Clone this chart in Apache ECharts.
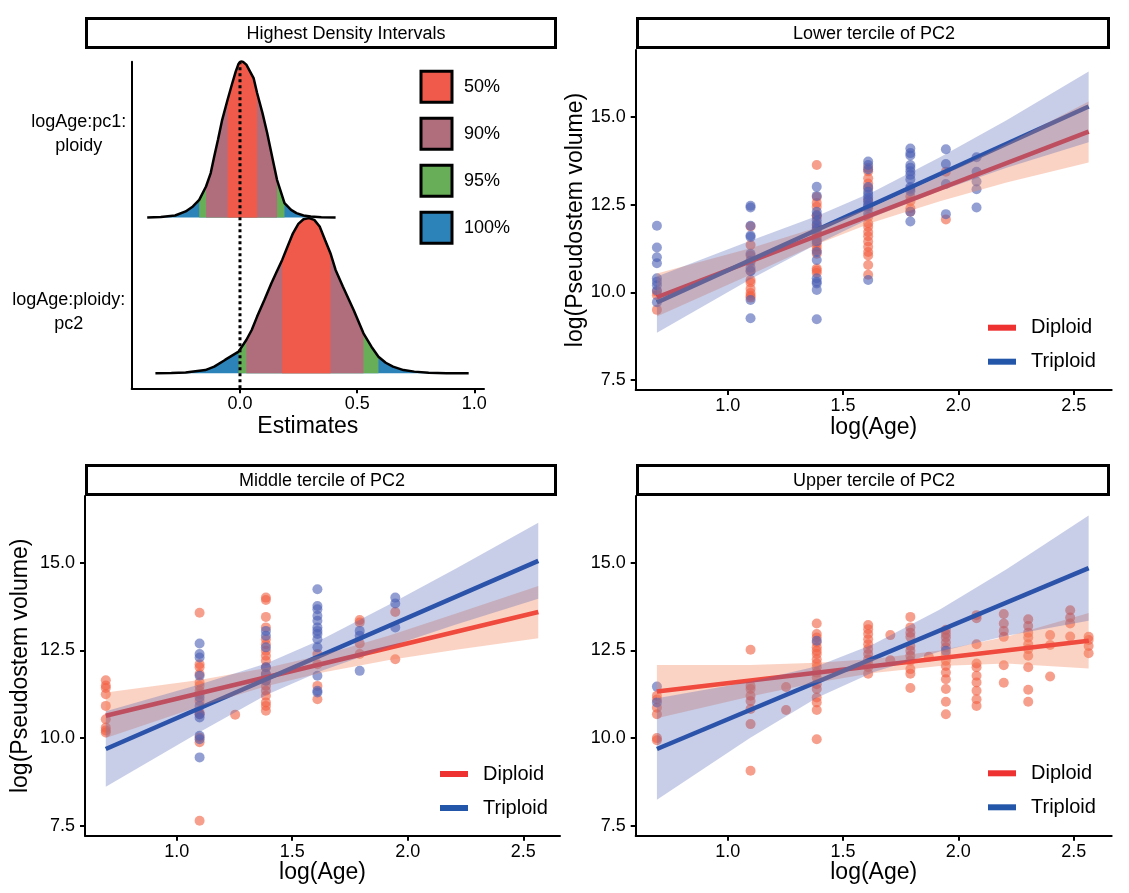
<!DOCTYPE html>
<html><head><meta charset="utf-8">
<script src="https://cdn.jsdelivr.net/npm/echarts@6/dist/echarts.min.js"></script>
<style>html,body{margin:0;padding:0;background:#fff}#c{width:1129px;height:893px}</style>
</head><body><div id="c"></div>
<script>
// ================= DATA =================
const stripTitles = ['Highest Density Intervals', 'Lower tercile of PC2', 'Middle tercile of PC2', 'Upper tercile of PC2'];
const hdiLevels = ['50%', '90%', '95%', '100%'];
const ridgeLabels = ['logAge:ploidy:\npc2', 'logAge:pc1:\nploidy'];
const estimateTicks = [0, 0.5, 1.0];
const ageTicks = [1.0, 1.5, 2.0, 2.5];
const volumeTicks = [7.5, 10.0, 12.5, 15.0];

// Posterior density of logAge:pc1:ploidy (baseline 2)
const pc1X = [-0.396, -0.338, -0.277, -0.232, -0.201, -0.174, -0.145, -0.125, -0.110, -0.094, -0.076, -0.053, -0.034, -0.018, -0.006, 0.006, 0.027, 0.058, 0.073, 0.096, 0.116, 0.137, 0.158, 0.190, 0.218, 0.241, 0.271, 0.302, 0.347, 0.408];
const pc1H = [0, 0.004, 0.013, 0.039, 0.071, 0.113, 0.199, 0.285, 0.392, 0.499, 0.627, 0.756, 0.857, 0.938, 0.987, 1.008, 0.981, 0.895, 0.799, 0.670, 0.542, 0.392, 0.242, 0.092, 0.049, 0.028, 0.013, 0.006, 0.002, 0];
// HDI bounds in order of hdiLevels
const pc1Hdi = [[-0.053, 0.073], [-0.145, 0.158], [-0.174, 0.190], [-0.396, 0.408]];

// Posterior density of logAge:ploidy:pc2 (baseline 1)
const pc2X = [-0.361, -0.293, -0.232, -0.148, -0.110, -0.064, -0.006, 0.027, 0.050, 0.073, 0.104, 0.134, 0.157, 0.180, 0.203, 0.226, 0.249, 0.271, 0.294, 0.317, 0.340, 0.363, 0.386, 0.408, 0.439, 0.485, 0.527, 0.561, 0.591, 0.622, 0.653, 0.698, 0.744, 0.805, 0.881, 0.976];
const pc2H = [0, 0.002, 0.006, 0.021, 0.043, 0.086, 0.139, 0.214, 0.278, 0.364, 0.471, 0.578, 0.653, 0.728, 0.814, 0.899, 0.959, 0.989, 0.996, 0.985, 0.942, 0.856, 0.771, 0.664, 0.557, 0.407, 0.257, 0.171, 0.107, 0.068, 0.043, 0.021, 0.011, 0.004, 0, 0];
const pc2Hdi = [[0.180, 0.386], [0.027, 0.527], [-0.006, 0.591], [-0.361, 0.976]];

const zeroLine = [[0, 0.904], [0, 3.0]];

// Scatter points: [log(Age), [log(Pseudostem volume) ...]]
const lowerDiploid = [
  [0.693, [10.02, 9.92, 9.50]],
  [1.099, [11.88, 11.35, 11.05, 10.85, 10.62, 10.35, 10.28, 10.10, 9.98, 9.90, 9.85]],
  [1.386, [13.63, 12.72, 12.55, 12.44, 12.20, 12.15, 11.95, 11.85, 11.75, 11.68, 11.62, 11.55, 11.48, 11.40, 11.30, 11.20, 11.10, 10.68, 10.62, 10.55]],
  [1.609, [13.55, 13.45, 13.25, 13.10, 12.97, 12.63, 12.40, 12.15, 11.97, 11.87, 11.72, 11.60, 11.45, 11.30, 11.15, 11.05, 10.78, 10.50]],
  [1.792, [12.73, 12.60, 12.40, 12.30]],
  [1.946, [13.44, 12.08]]
];
const lowerTriploid = [
  [0.693, [11.90, 11.28, 11.00, 10.83, 10.40, 10.30, 10.20, 10.05, 9.72]],
  [1.099, [12.47, 12.42, 11.90, 11.62, 11.58, 11.10, 10.90, 10.70, 10.60, 9.78, 9.26]],
  [1.386, [13.01, 12.75, 12.30, 12.20, 12.05, 11.92, 11.80, 11.45, 11.15, 10.92, 10.40, 10.30, 10.25, 10.07, 9.23]],
  [1.609, [13.73, 13.63, 13.50, 13.00, 12.87, 12.78, 12.70, 12.60, 12.50, 12.45, 12.25, 10.35]],
  [1.792, [14.10, 13.97, 13.90, 13.63, 13.55, 13.45, 13.35, 13.22, 13.00, 12.95, 12.88, 12.30, 12.02]],
  [1.946, [14.08, 13.66, 13.09, 12.23]],
  [2.079, [13.85, 13.44, 13.16, 12.94, 12.42]]
];
const middleDiploid = [
  [0.693, [11.65, 11.50, 11.43, 11.25, 10.92, 10.54, 10.30, 10.22, 10.16]],
  [1.099, [13.58, 12.11, 12.02, 11.83, 11.59, 11.49, 11.35, 11.25, 11.06, 10.73, 10.68, 10.02, 9.88, 7.64]],
  [1.253, [10.67]],
  [1.386, [14.01, 13.94, 13.46, 13.16, 12.82, 12.68, 12.49, 12.35, 12.21, 12.02, 11.83, 11.64, 11.49, 11.35, 11.21, 11.02, 10.92, 10.78]],
  [1.609, [12.40, 12.11, 11.49, 11.11]],
  [1.792, [13.37, 13.30, 12.70, 12.40]],
  [1.946, [13.60, 12.25]]
];
const middleTriploid = [
  [1.099, [12.70, 12.40, 12.30, 11.78, 11.16, 10.92, 10.68, 10.59, 10.07, 9.97, 9.45]],
  [1.386, [13.06, 12.92, 12.59, 12.02, 11.83, 11.64]],
  [1.609, [14.25, 13.77, 13.68, 13.49, 13.35, 13.16, 13.06, 12.97, 12.82, 12.59, 11.78, 11.35, 11.30]],
  [1.792, [13.06, 12.92, 11.92]],
  [1.946, [14.01, 13.84, 13.16]]
];
const upperDiploid = [
  [0.693, [11.21, 11.10, 10.87, 10.68, 10.00, 9.94]],
  [1.099, [12.52, 11.49, 11.40, 11.21, 11.06, 10.83, 10.40, 9.07]],
  [1.253, [11.46, 10.80]],
  [1.386, [13.27, 12.97, 12.87, 12.73, 12.59, 12.49, 12.40, 12.25, 12.13, 12.02, 11.87, 11.73, 11.54, 11.40, 11.16, 11.02, 10.80, 9.97]],
  [1.609, [13.23, 13.11, 12.97, 12.82, 12.68, 12.54, 12.40, 12.25, 12.13, 12.02, 11.84]],
  [1.705, [12.94, 12.22]],
  [1.792, [13.46, 13.16, 13.01, 12.89, 12.63, 12.49, 12.35, 12.21, 11.97, 11.84, 11.43]],
  [1.872, [12.32]],
  [1.946, [13.09, 12.98, 12.87, 12.73, 12.59, 12.40, 12.21, 12.06, 11.87, 11.68, 11.40, 11.04, 10.68]],
  [2.079, [13.51, 13.42, 12.68, 12.13, 12.02, 11.78, 11.59, 11.35, 11.11, 10.92]],
  [2.197, [13.54, 13.27, 13.06, 12.89, 12.08, 11.58]],
  [2.303, [13.39, 13.20, 13.01, 12.87, 12.68, 12.54, 12.35, 12.02, 11.38, 11.04]],
  [2.398, [12.94, 12.66, 11.76]],
  [2.485, [13.65, 13.44, 13.27, 12.90]],
  [2.565, [12.89, 12.80, 12.63, 12.42]]
];
const upperTriploid = [
  [0.693, [11.47, 11.02]],
  [1.386, [12.78]],
  [1.946, [12.49]]
];

// Fitted lines and confidence ribbons
const bandX = [0.693, 1.098, 1.387, 1.631, 1.920, 2.209, 2.565];
const lowerDipFit = [[0.693, 9.86], [2.565, 14.58]];
const lowerTriFit = [[0.693, 9.71], [2.565, 15.30]];
const lowerDipLo = [9.31, 10.50, 11.37, 12.00, 12.60, 13.13, 13.70];
const lowerDipHi = [10.54, 11.26, 11.85, 12.44, 13.30, 14.23, 15.44];
const lowerTriLo = [8.85, 10.37, 11.38, 12.15, 12.89, 13.55, 14.28];
const lowerTriHi = [10.45, 11.47, 12.18, 12.87, 13.85, 14.91, 16.30];

const middleDipFit = [[0.693, 10.64], [2.565, 13.60]];
const middleTriFit = [[0.693, 9.69], [2.565, 15.06]];
const middleDipLo = [10.00, 10.90, 11.48, 11.87, 12.23, 12.52, 12.85];
const middleDipHi = [11.30, 11.66, 12.00, 12.37, 12.93, 13.56, 14.34];
const middleTriLo = [8.61, 10.17, 11.23, 11.93, 12.61, 13.24, 13.98];
const middleTriHi = [10.77, 11.53, 12.13, 12.83, 13.81, 14.84, 16.15];

const upperDipFit = [[0.693, 11.33], [2.565, 12.78]];
const upperTriFit = [[0.693, 9.69], [2.565, 14.85]];
const upperDipLo = [10.57, 11.19, 11.59, 11.86, 12.06, 12.13, 11.99];
const upperDipHi = [12.09, 12.09, 12.15, 12.26, 12.50, 12.89, 13.57];
const upperTriLo = [8.24, 10.01, 11.15, 11.88, 12.47, 12.92, 13.35];
const upperTriHi = [11.14, 11.61, 12.05, 12.68, 13.67, 14.82, 16.35];

// ================= STYLE =================
const FONT = 'Liberation Sans, Arial, Helvetica, sans-serif';
const hdiColors = ['#F05A4A', '#B06E7D', '#68AD57', '#2B83BA'];
const DIP_LINE = '#EC2326', TRI_LINE = '#1F4FA6';
const DIP_PT = 'rgba(242,95,65,0.75)', TRI_PT = 'rgba(75,95,180,0.75)';
const DIP_BAND = 'rgba(244,140,100,0.38)', TRI_BAND = 'rgba(72,92,178,0.30)';

function expand(cols) {
  const out = [];
  cols.forEach(([x, ys]) => ys.forEach(y => out.push([x, y])));
  return out;
}

const chart = echarts.init(document.getElementById('c'), null, {renderer: 'canvas'});

const grids = [
  {left: 131.7, top: 61.7, width: 352.3, height: 326.6},
  {left: 635.7, top: 50, width: 476, height: 340},
  {left: 85, top: 496, width: 475, height: 339.7},
  {left: 635.7, top: 496, width: 476, height: 339.7}
].map(g => Object.assign({containLabel: false, outerBoundsMode: 'none'}, g));

const axisLine = {show: true, onZero: false, lineStyle: {color: '#000', width: 2}};
const tickStyle = {color: '#000', width: 2};
const lblBase = {color: '#000', fontSize: 18, fontFamily: FONT};
const nameStyle = {color: '#000', fontSize: 23, fontFamily: FONT};

function xAxisScatter(g, min, max) {
  return {type: 'value', gridIndex: g, min, max, axisLine,
    axisTick: {show: true, length: 5, lineStyle: tickStyle, customValues: ageTicks},
    axisLabel: Object.assign({customValues: ageTicks, formatter: v => v.toFixed(1), margin: 7}, lblBase),
    splitLine: {show: false},
    name: 'log(Age)', nameLocation: 'middle', nameGap: 25, nameTextStyle: nameStyle};
}
function yAxisScatter(g, withName, gap) {
  const a = {type: 'value', gridIndex: g, min: 7.215, max: 16.91, axisLine,
    axisTick: {show: true, length: 5, lineStyle: tickStyle, customValues: volumeTicks},
    axisLabel: Object.assign({customValues: volumeTicks, formatter: v => v.toFixed(1), margin: 10}, lblBase),
    splitLine: {show: false}};
  if (withName) Object.assign(a, {name: 'log(Pseudostem volume)', nameLocation: 'middle', nameGap: gap, nameRotate: 90, nameTextStyle: nameStyle});
  return a;
}

const xAxes = [
  {type: 'value', gridIndex: 0, min: -0.4622, max: 1.0414, axisLine,
    axisTick: {show: true, length: 5, lineStyle: tickStyle, customValues: estimateTicks},
    axisLabel: Object.assign({customValues: estimateTicks, formatter: v => v.toFixed(1), margin: 7}, lblBase),
    splitLine: {show: false},
    name: 'Estimates', nameLocation: 'middle', nameGap: 27, nameTextStyle: nameStyle},
  xAxisScatter(1, 0.601, 2.665),
  xAxisScatter(2, 0.603, 2.659),
  xAxisScatter(3, 0.601, 2.665)
];
const yAxes = [
  {type: 'value', gridIndex: 0, min: 0.904, max: 3.0, axisLine,
    axisTick: {show: false}, splitLine: {show: false},
    axisLabel: {customValues: [1.394, 2.536], align: 'right', margin: 5,
      formatter: v => {
        const idx = v < 2 ? 0 : 1;
        const key = idx === 0 ? 'p2' : 'p1';
        return ridgeLabels[idx].split('\n').map(s => '{' + key + '|' + s + '}').join('\n');
      },
      rich: {
        p1: {width: 96, align: 'center', fontSize: 18, lineHeight: 24, fontFamily: FONT, color: '#000'},
        p2: {width: 116, align: 'center', fontSize: 18, lineHeight: 24, fontFamily: FONT, color: '#000'}
      }}},
  yAxisScatter(1, true, 46),
  yAxisScatter(2, true, 53),
  yAxisScatter(3, false, 0)
];

const series = [];

// ---- Ridge HDI fills (drawn widest first) ----
const ridges = [
  {x: pc2X, h: pc2H, base: 1, hdi: pc2Hdi},
  {x: pc1X, h: pc1H, base: 2, hdi: pc1Hdi}
];
for (let k = hdiLevels.length - 1; k >= 0; k--) {
  series.push({
    type: 'custom', name: hdiLevels[k], xAxisIndex: 0, yAxisIndex: 0,
    itemStyle: {color: hdiColors[k]}, z: 2 + (hdiLevels.length - k) * 0.1, silent: true,
    data: [[0, 1], [0, 2]],
    renderItem: (params, api) => {
      const r = ridges[params.dataIndex];
      const [lo, hi] = r.hdi[k];
      const pts = [];
      r.x.forEach((x, i) => { if (x >= lo - 1e-9 && x <= hi + 1e-9) pts.push(api.coord([x, r.base + r.h[i]])); });
      pts.push(api.coord([hi, r.base]));
      pts.push(api.coord([lo, r.base]));
      return {type: 'polygon', shape: {points: pts}, style: {fill: api.visual('color')}};
    }
  });
}
// Ridge outlines
ridges.forEach((r, j) => series.push({
  type: 'line', name: 'outline' + j, xAxisIndex: 0, yAxisIndex: 0, symbol: 'none', silent: true, z: 5,
  lineStyle: {color: '#000', width: 2.5}, data: r.x.map((x, i) => [x, r.base + r.h[i]])
}));
// Zero reference line
series.push({type: 'line', name: 'zero', xAxisIndex: 0, yAxisIndex: 0, symbol: 'none', silent: true, z: 6,
  lineStyle: {color: '#000', width: 3, type: [3, 3]}, data: zeroLine});

// ---- Scatter panels ----
function bandSeries(g, lo, hi, color) {
  return {type: 'custom', name: 'band', xAxisIndex: g, yAxisIndex: g, silent: true, z: 4,
    data: [[bandX[0], lo[0]]],
    renderItem: (params, api) => {
      const pts = bandX.map((x, i) => api.coord([x, hi[i]]));
      for (let i = bandX.length - 1; i >= 0; i--) pts.push(api.coord([bandX[i], lo[i]]));
      return {type: 'polygon', shape: {points: pts}, style: {fill: color}};
    }};
}
const panels = [
  {g: 1, dip: lowerDiploid, tri: lowerTriploid, dFit: lowerDipFit, tFit: lowerTriFit, dLo: lowerDipLo, dHi: lowerDipHi, tLo: lowerTriLo, tHi: lowerTriHi},
  {g: 2, dip: middleDiploid, tri: middleTriploid, dFit: middleDipFit, tFit: middleTriFit, dLo: middleDipLo, dHi: middleDipHi, tLo: middleTriLo, tHi: middleTriHi},
  {g: 3, dip: upperDiploid, tri: upperTriploid, dFit: upperDipFit, tFit: upperTriFit, dLo: upperDipLo, dHi: upperDipHi, tLo: upperTriLo, tHi: upperTriHi}
];
panels.forEach(p => {
  series.push({type: 'scatter', name: 'Diploid pts', xAxisIndex: p.g, yAxisIndex: p.g, symbolSize: 10, z: 2,
    itemStyle: {color: DIP_PT}, data: expand(p.dip), silent: true});
  series.push({type: 'scatter', name: 'Triploid pts', xAxisIndex: p.g, yAxisIndex: p.g, symbolSize: 10, z: 2,
    itemStyle: {color: TRI_PT}, data: expand(p.tri), silent: true});
  series.push({type: 'line', name: 'Diploid', xAxisIndex: p.g, yAxisIndex: p.g, symbol: 'none', z: 3, silent: true,
    itemStyle: {color: DIP_LINE}, lineStyle: {color: DIP_LINE, width: 4.5}, data: p.dFit});
  series.push({type: 'line', name: 'Triploid', xAxisIndex: p.g, yAxisIndex: p.g, symbol: 'none', z: 3, silent: true,
    itemStyle: {color: TRI_LINE}, lineStyle: {color: TRI_LINE, width: 4.5}, data: p.tFit});
  series.push(bandSeries(p.g, p.dLo, p.dHi, DIP_BAND));
  series.push(bandSeries(p.g, p.tLo, p.tHi, TRI_BAND));
});

// ---- Legends ----
function fitLegend(left, top) {
  return {orient: 'vertical', left, top, padding: 0, itemGap: 14, icon: 'rect', itemWidth: 28, itemHeight: 6,
    selectedMode: false,
    textStyle: {color: '#000', fontSize: 20, fontFamily: FONT, lineHeight: 20, padding: [0, 0, 0, 10]},
    data: [{name: 'Diploid', itemStyle: {color: '#EE3131'}}, {name: 'Triploid', itemStyle: {color: '#2356A8'}}]};
}
const legends = [
  {orient: 'vertical', left: 419.5, top: 69.8, padding: 0, itemGap: 13, icon: 'rect', itemWidth: 31, itemHeight: 31,
    selectedMode: false, itemStyle: {borderColor: '#000', borderWidth: 3},
    textStyle: {color: '#000', fontSize: 18, fontFamily: FONT, padding: [0, 0, 0, 7]},
    data: hdiLevels},
  fitLegend(988, 317.7),
  fitLegend(440, 764),
  fitLegend(988, 763.3)
];

// ---- Strip titles ----
function strip(x, y, w, h, text, cx) {
  return {type: 'group', children: [
    {type: 'rect', shape: {x: x + 1.5, y: y + 1.5, width: w - 3, height: h - 3}, style: {fill: '#fff', stroke: '#000', lineWidth: 3}},
    {type: 'text', x: cx, y: y + h / 2 + 1, style: {text, fill: '#000', fontSize: 18, fontFamily: FONT, align: 'center', verticalAlign: 'middle'}}
  ]};
}
const graphic = [
  strip(85, 17, 472, 32, stripTitles[0], 346),
  strip(636, 17, 474, 32, stripTitles[1], 874),
  strip(85, 464, 472, 32, stripTitles[2], 322),
  strip(636, 464, 474, 32, stripTitles[3], 874)
];

chart.setOption({
  animation: false,
  backgroundColor: '#fff',
  textStyle: {fontFamily: FONT},
  grid: grids,
  xAxis: xAxes,
  yAxis: yAxes,
  legend: legends,
  graphic,
  series
});
</script>
</body></html>
